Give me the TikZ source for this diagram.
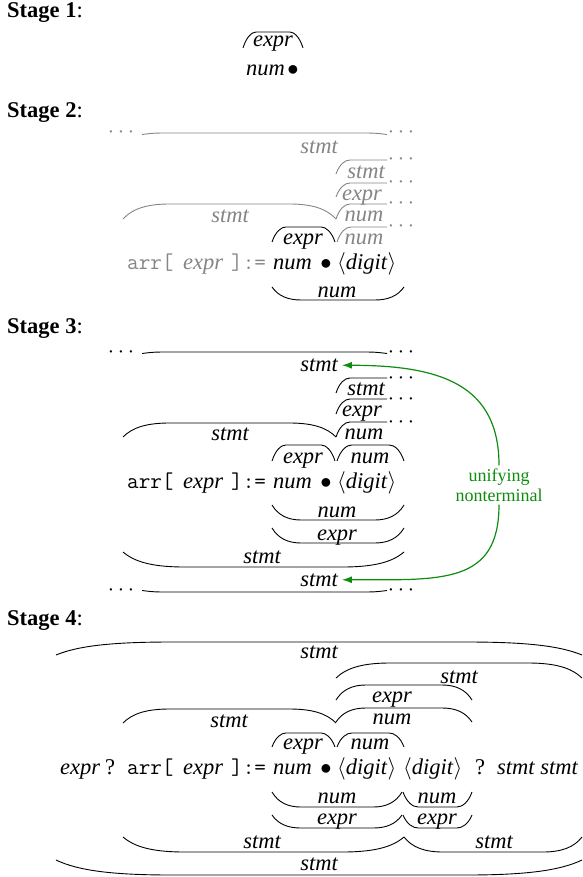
\RequirePackage{fix-cm}
\documentclass[tikz,border=0pt]{standalone}
\usepackage{fontspec}
\setmainfont{LiberationSerif}[Extension=.ttf, UprightFont=*-Regular, BoldFont=*-Bold, ItalicFont=*-Italic, BoldItalicFont=*-BoldItalic]
\usetikzlibrary{arrows.meta}
\definecolor{ghostgray}{gray}{0.52}
\definecolor{ugreen}{rgb}{0.05,0.55,0.05}
\newcommand{\fsz}{\fontsize{22.5}{27}\selectfont}
% over/under arc: [opts]{x1}{x2}{yEnd}{yFlat}
\newcommand{\oarc}[5][]{%
  \pgfmathsetmacro\arcAW{#3-#2}%
  \pgfmathsetmacro\arcCA{0.04*\arcAW+1}%
  \pgfmathsetmacro\arcCB{0.1*\arcAW+3}%
  \pgfmathsetmacro\arcCR{0.22*\arcAW}%
  \pgfmathsetmacro\arcYM{#4+0.7*(#5-#4)}%
  \draw[arcline,#1] (#2,#4) .. controls ({#2+\arcCA},\arcYM) and ({#2+\arcCB},#5) .. ({#2+\arcCR},#5) -- ({#3-\arcCR},#5) .. controls ({#3-\arcCB},#5) and ({#3-\arcCA},\arcYM) .. (#3,#4);}
% left half arc truncated on the right: [opts]{x1}{xEnd}{yEnd}{yFlat}
\newcommand{\larc}[5][]{%
  \pgfmathsetmacro\arcYM{#4+0.7*(#5-#4)}%
  \draw[arcline,#1] (#2,#4) .. controls ({#2+3.5},\arcYM) and ({#2+9},#5) .. ({#2+14},#5) -- (#3,#5);}
% long line truncated at both ends: [opts]{x1}{x2}{y}{droop}
\newcommand{\tline}[5][]{%
  \draw[arcline,#1] (#2,{#4+#5}) .. controls ({#2+12},#4) .. ({#2+30},#4) -- ({#3-30},#4) .. controls ({#3-12},#4) .. (#3,{#4+#5});}
\tikzset{
  arcline/.style={line width=0.9pt},
  faded/.style={color=ghostgray},
  head/.style={anchor=base west, inner sep=0pt, font=\fsz},
  txtit/.style={anchor=base west, inner sep=0pt, font=\fsz\itshape},
  txttt/.style={anchor=base west, inner sep=0pt, font=\fsz\ttfamily},
  txtrm/.style={anchor=base west, inner sep=0pt, font=\fsz},
  lbl/.style={anchor=base, inner sep=0pt, font=\fsz\itshape},
  olbl/.style={lbl, yshift=-1.5pt},
  bul/.style={anchor=base, inner sep=0pt, font=\fsz},
  dotsn/.style={anchor=center, inner sep=0pt, font=\fsz},
  garrow/.style={draw=ugreen, line width=1.2pt, -{Latex[length=10pt,width=7pt]}},
}
\begin{document}
\begin{tikzpicture}[x=1pt,y=-1pt]
\useasboundingbox (0,0) rectangle (582,877);
% ---------------- Stage 1
\node[head] (s1h) at (7,18) {\textbf{Stage 1}:};
\oarc{243}{303}{48}{32}
\node[olbl] (s1a) at (273,45) {expr};
\node[txtit] (s1n) at (246,76) {num};
\node[bul] (s1b) at (293,76) {$\bullet$};
% ---------------- Stage 2
\node[head] (s2h) at (7,118) {\textbf{Stage 2}:};
\node[dotsn,faded] (s2d1) at (121,133) {$\cdots$};
\tline[faded]{142}{387}{133}{1.5}
\node[dotsn,faded] (s2d2) at (401,133) {$\cdots$};
\node[olbl,faded] (s2l1) at (319,152) {stmt};
\larc[faded]{336}{387}{174}{160}
\node[dotsn,faded] (s2d3) at (401,160) {$\cdots$};
\node[olbl,faded] (s2l2) at (366,177) {stmt};
\larc[faded]{336}{387}{197}{183}
\node[dotsn,faded] (s2d4) at (401,183) {$\cdots$};
\node[olbl,faded] (s2l3) at (362,199) {expr};
\larc[faded]{336}{387}{219}{204}
\node[dotsn,faded] (s2d5) at (401,204) {$\cdots$};
\node[olbl,faded] (s2l4) at (364,220) {num};
\oarc[faded]{123}{336}{219}{204}
\node[olbl,faded] (s2l5) at (230,221) {stmt};
\oarc{272}{335}{242}{227}
\node[olbl] (s2l6) at (303,243) {expr};
\larc[faded]{337}{387}{242}{227}
\node[dotsn,faded] (s2d6) at (401,227) {$\cdots$};
\node[olbl,faded] (s2l7) at (364,243) {num};
\node[txttt,faded] (s2t1) at (127,269) {arr[};
\node[txtit,faded] (s2t2) at (183,269) {expr};
\node[txttt,faded] (s2t3) at (231,269) {]:=};
\node[txtit] (s2t4) at (273,269) {num};
\node[bul] (s2t5) at (326,269) {$\bullet$};
\node[txtrm] (s2t6) at (337,269) {$\langle$\textit{digit}$\rangle$};
\oarc{272}{404}{287}{300}
\node[lbl] (s2l8) at (337,297) {num};
% ---------------- Stage 3
\node[head] (s3h) at (7,333) {\textbf{Stage 3}:};
\node[dotsn] (s3d1) at (121,352) {$\cdots$};
\tline{142}{387}{352}{1.5}
\node[dotsn] (s3d2) at (401,352) {$\cdots$};
\node[olbl] (s3top) at (319,370) {stmt};
\larc{336}{387}{393}{378}
\node[dotsn] (s3d3) at (401,378) {$\cdots$};
\node[olbl] (s3l2) at (366,394) {stmt};
\larc{336}{387}{414}{399}
\node[dotsn] (s3d4) at (401,399) {$\cdots$};
\node[olbl] (s3l3) at (362,415) {expr};
\larc{336}{387}{437}{422}
\node[dotsn] (s3d5) at (401,422) {$\cdots$};
\node[olbl] (s3l4) at (364,438) {num};
\oarc{123}{336}{437}{423}
\node[olbl] (s3l5) at (230,439) {stmt};
\oarc{272}{335}{461}{445}
\node[olbl] (s3l6) at (303,462) {expr};
\oarc{337}{404}{461}{445}
\node[olbl] (s3l7) at (370,462) {num};
\node[txttt] (s3t1) at (127,488) {arr[};
\node[txtit] (s3t2) at (183,488) {expr};
\node[txttt] (s3t3) at (231,488) {]:=};
\node[txtit] (s3t4) at (273,488) {num};
\node[bul] (s3t5) at (326,488) {$\bullet$};
\node[txtrm] (s3t6) at (337,488) {$\langle$\textit{digit}$\rangle$};
\oarc{272}{404}{505}{520}
\node[lbl] (s3l8) at (337,517) {num};
\oarc{272}{404}{528}{543}
\node[lbl] (s3l9) at (337,540) {expr};
\oarc{123}{404}{552}{567}
\node[lbl] (s3l10) at (262,563) {stmt};
\node[lbl] (s3bot) at (319,586) {stmt};
\tline{142}{387}{592}{-1.5}
\node[dotsn] (s3d6) at (121,590) {$\cdots$};
\node[dotsn] (s3d7) at (401,590) {$\cdots$};
\node[align=center, text=ugreen, inner sep=3pt, font=\fontsize{18}{20}\selectfont] (uni) at (499,485) {unifying\\nonterminal};
\draw[garrow] (uni.north) .. controls +(0,-80) and +(100,0) .. ([xshift=4pt]s3top.east);
\draw[garrow] (uni.south) .. controls +(0,80) and +(100,0) .. ([xshift=4pt]s3bot.east);
% ---------------- Stage 4
\node[head] (s4h) at (7,625) {\textbf{Stage 4}:};
\oarc{56}{582}{655}{642}
\node[olbl] (s4l1) at (319,657) {stmt};
\oarc{336}{582}{678}{663}
\node[olbl] (s4l2) at (459,682) {stmt};
\oarc{336}{472}{700}{685}
\node[olbl] (s4l3) at (392,701) {expr};
\oarc{336}{472}{722}{708}
\node[olbl] (s4l4) at (392,723) {num};
\oarc{123}{336}{723}{709}
\node[olbl] (s4l5) at (229,726) {stmt};
\oarc{272}{335}{747}{733}
\node[olbl] (s4l6) at (303,748) {expr};
\oarc{337}{404}{747}{733}
\node[olbl] (s4l7) at (370,748) {num};
\node[txtit] (s4t0) at (60,774) {expr};
\node[txtrm] (s4q1) at (105,774) {?};
\node[txttt] (s4t1) at (127,774) {arr[};
\node[txtit] (s4t2) at (183,774) {expr};
\node[txttt] (s4t3) at (231,774) {]:=};
\node[txtit] (s4t4) at (273,774) {num};
\node[bul] (s4t5) at (326,774) {$\bullet$};
\node[txtrm] (s4t6) at (337,774) {$\langle$\textit{digit}$\rangle$};
\node[txtrm] (s4t7) at (403,774) {$\langle$\textit{digit}$\rangle$};
\node[txtrm] (s4q2) at (475,774) {?};
\node[txtit] (s4t8) at (497,774) {stmt stmt};
\oarc{272}{402}{792}{807}
\node[lbl] (s4l8) at (337,803) {num};
\oarc{403}{472}{792}{807}
\node[lbl] (s4l9) at (437,803) {num};
\oarc{272}{402}{815}{828}
\node[lbl] (s4l10) at (337,824) {expr};
\oarc{403}{472}{815}{828}
\node[lbl] (s4l11) at (437,824) {expr};
\oarc{123}{404}{837}{852}
\node[lbl] (s4l12) at (262,848) {stmt};
\oarc{404}{582}{837}{852}
\node[lbl] (s4l13) at (494,848) {stmt};
\oarc{56}{582}{860}{875}
\node[lbl] (s4l14) at (319,870) {stmt};
\end{tikzpicture}
\end{document}
